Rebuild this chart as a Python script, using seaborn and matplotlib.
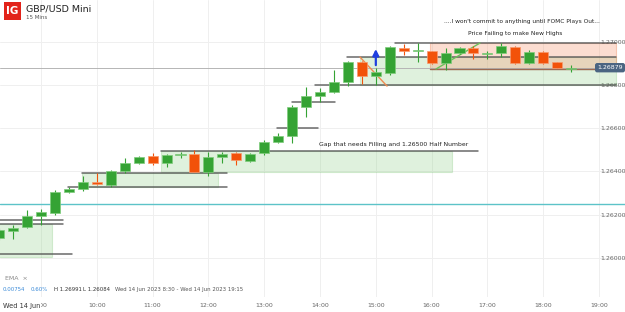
import matplotlib.pyplot as plt
import seaborn as sns
from matplotlib.patches import Rectangle, FancyArrowPatch

# 15 minute candles, GBP/USD Mini, Wed 14 Jun 2023
times = ["08:15", "08:30", "08:45", "09:00", "09:15", "09:30", "09:45",
         "10:00", "10:15", "10:30", "10:45", "11:00", "11:15", "11:30", "11:45",
         "12:00", "12:15", "12:30", "12:45", "13:00", "13:15", "13:30", "13:45",
         "14:00", "14:15", "14:30", "14:45", "15:00", "15:15", "15:30", "15:45",
         "16:00", "16:15", "16:30", "16:45", "17:00", "17:15", "17:30", "17:45",
         "18:00", "18:15", "18:30"]
opens = [1.26092, 1.26124, 1.26143, 1.26194, 1.26208, 1.26305, 1.26319,
         1.26351, 1.26337, 1.26402, 1.26439, 1.26471, 1.26439, 1.26476, 1.26480,
         1.26397, 1.26466, 1.26485, 1.26448, 1.26485, 1.26536, 1.26563, 1.26697,
         1.26748, 1.26767, 1.26813, 1.26905, 1.26841, 1.26854, 1.26970, 1.26956,
         1.26956, 1.26901, 1.26947, 1.26970, 1.26942, 1.26947, 1.26975, 1.26901,
         1.26951, 1.26905, 1.26873]
highs = [1.26140, 1.26152, 1.26222, 1.26226, 1.26314, 1.26328, 1.26379,
         1.26392, 1.26406, 1.26462, 1.26471, 1.26485, 1.26480, 1.26489, 1.26499,
         1.26489, 1.26489, 1.26489, 1.26485, 1.26545, 1.26577, 1.26707, 1.26790,
         1.26785, 1.26868, 1.26910, 1.26908, 1.26878, 1.26979, 1.26988, 1.26991,
         1.26958, 1.26970, 1.26975, 1.26979, 1.26956, 1.26991, 1.26979, 1.26961,
         1.26956, 1.26907, 1.26891]
lows = [1.26084, 1.26088, 1.26140, 1.26152, 1.26200, 1.26300, 1.26309,
        1.26337, 1.26328, 1.26392, 1.26434, 1.26430, 1.26420, 1.26462, 1.26397,
        1.26379, 1.26439, 1.26430, 1.26444, 1.26476, 1.26531, 1.26531, 1.26651,
        1.26720, 1.26762, 1.26794, 1.26804, 1.26799, 1.26845, 1.26938, 1.26905,
        1.26896, 1.26868, 1.26942, 1.26919, 1.26919, 1.26928, 1.26896, 1.26896,
        1.26896, 1.26876, 1.26859]
closes = [1.26129, 1.26138, 1.26194, 1.26212, 1.26305, 1.26319, 1.26351,
          1.26342, 1.26402, 1.26439, 1.26466, 1.26439, 1.26476, 1.26480, 1.26397,
          1.26466, 1.26480, 1.26453, 1.26480, 1.26536, 1.26563, 1.26697, 1.26748,
          1.26767, 1.26813, 1.26905, 1.26841, 1.26859, 1.26975, 1.26956, 1.26961,
          1.26901, 1.26947, 1.26970, 1.26947, 1.26947, 1.26979, 1.26901, 1.26951,
          1.26901, 1.26878, 1.26879]

price_ticks = [1.26000, 1.26200, 1.26400, 1.26600, 1.26800, 1.27000]
hour_ticks = [9, 10, 11, 12, 13, 14, 15, 16, 17, 18, 19]
hour_labels = ["9:00", "10:00", "11:00", "12:00", "13:00", "14:00",
               "15:00", "16:00", "17:00", "18:00", "19:00"]

# drawn levels: (price, from hour, to hour)
dark_levels = [(1.26018, 8.2, 9.556), (1.26177, 8.2, 9.394), (1.26156, 8.2, 9.394),
               (1.26394, 9.735, 12.333), (1.26329, 9.484, 12.333),
               (1.26496, 11.151, 16.832), (1.26599, 13.229, 13.964),
               (1.26719, 13.498, 14.269), (1.26799, 13.910, 19.305),
               (1.26930, 14.484, 19.305), (1.26994, 15.344, 19.305)]
# zones: (from hour, to hour, low, high)
green_zones = [(8.2, 9.197, 1.26004, 1.26156), (9.735, 12.172, 1.26329, 1.26394),
               (11.151, 16.366, 1.26397, 1.26496), (14.717, 19.305, 1.26799, 1.26928)]
red_zone = (15.971, 19.305, 1.26873, 1.26993)
ema_level = 1.26249
last_price = 1.26879

sns.set_style("white")
plt.rcParams['font.family'] = ['DejaVu Sans']

fig = plt.figure(figsize=(6.25, 3.12), dpi=100)
ax = fig.add_axes([0, 1 - 297 / 312, 1, 297 / 312])

def to_h(t):
    h, m = t.split(":")
    return int(h) + int(m) / 60

xs = [to_h(t) for t in times]
px_h = 55.8
ax.set_xlim(8.265, 8.265 + 625 / px_h)
ax.set_ylim(1.258198, 1.271917)

for x in hour_ticks:
    ax.axvline(x, color="#efefef", lw=0.7, zorder=0)
for p in price_ticks:
    ax.axhline(p, color="#efefef", lw=0.7, zorder=0)

# zones
for x1, x2, lo, hi in green_zones:
    ax.add_patch(Rectangle((x1, lo), x2 - x1, hi - lo, facecolor="#8ccf86", alpha=0.28,
                           edgecolor="#7cc476", lw=0.8, zorder=1, clip_on=False))
x1, x2, lo, hi = red_zone
ax.add_patch(Rectangle((x1, lo), x2 - x1, hi - lo, facecolor="#f7a07c", alpha=0.35,
                       edgecolor="#ec7a4a", lw=0.8, zorder=1, clip_on=False))
ax.plot([x1, x2], [lo, lo], color="#9c6a52", lw=1.0, zorder=2, clip_on=False)

for p, a, b in dark_levels:
    ax.plot([a, b], [p, p], color="#505050", lw=1.1, alpha=0.85, zorder=2, clip_on=False)

ax.axhline(ema_level, color="#5cc3c8", lw=1.0, zorder=2)
ax.axhline(last_price, color="#b5b5b5", lw=0.7, zorder=1)

# trend lines
ax.plot([14.717, 15.201], [1.26928, 1.26794], color="#f08a50", lw=1.0, zorder=2)
ax.plot([16.079, 16.867], [1.26873, 1.26993], color="#6cc05a", lw=1.0, zorder=2)

# candles
for x, o, h, l, c in zip(xs, opens, highs, lows, closes):
    col = "#35a334" if c >= o else "#f2520a"
    edge = "#7fcc7c" if c >= o else "#f79a6e"
    ax.vlines(x, l, h, color=col, lw=0.8, zorder=3)
    body = max(abs(c - o), 0.00004)
    ax.bar(x, body, bottom=min(o, c), width=0.18, color=col, edgecolor=edge,
           lw=0.5, zorder=4)

ax.add_patch(FancyArrowPatch((15.0, 1.26878), (15.0, 1.26978), arrowstyle="-|>",
                             mutation_scale=9, color="#1f3fe0", lw=1.6, zorder=5))

ax.text(17.62, 1.27091, "....I won't commit to anything until FOMC Plays Out...",
        fontsize=4.2, ha="center", va="center", color="#222222")
ax.text(17.495, 1.27035, "Price Failing to make New Highs",
        fontsize=4.2, ha="center", va="center", color="#222222")
ax.text(15.326, 1.26522, "Gap that needs Filling and 1.26500 Half Number",
        fontsize=4.4, ha="center", va="center", color="#222222")

# axes ticks
ax.set_xticks(hour_ticks)
ax.set_xticklabels(hour_labels)
ax.set_yticks(price_ticks)
ax.set_yticklabels([f"{p:.5f}" for p in price_ticks])
ax.yaxis.tick_right()
ax.tick_params(axis="y", length=0, pad=-18, labelsize=4.5, labelcolor="#666666")
ax.tick_params(axis="x", length=0, pad=4, labelsize=4.5, labelcolor="#666666")
for s in ax.spines.values():
    s.set_visible(False)

ax.text(0.9555, last_price, "1.26879", transform=ax.get_yaxis_transform(),
        fontsize=4.5, color="white", ha="left", va="center", zorder=6,
        bbox=dict(boxstyle="round,pad=0.35", fc="#4b6582", ec="none"))

# header and footer
fig.add_artist(Rectangle((4 / 625, 1 - 20 / 312), 17 / 625, 18 / 312,
                         transform=fig.transFigure, fc="#e2231a", ec="none"))
fig.text(12.5 / 625, 1 - 11.5 / 312, "IG", color="white", fontsize=7.5,
         fontweight="bold", ha="center", va="center")
fig.text(26 / 625, 1 - 9 / 312, "GBP/USD Mini", fontsize=6.8, color="#222222",
         va="center")
fig.text(26 / 625, 1 - 17.5 / 312, "15 Mins", fontsize=4.0, color="#555555",
         va="center")

fig.text(5 / 625, 1 - 279 / 312, "EMA  ×", fontsize=4.5, color="#888888", va="center")
row_y = 1 - 289.5 / 312
fig.text(3 / 625, row_y, "0.00754", fontsize=3.9, color="#3a8ad8", va="center")
fig.text(31 / 625, row_y, "0.60%", fontsize=3.9, color="#3a8ad8", va="center")
fig.text(54 / 625, row_y, "H 1.26991", fontsize=3.9, color="#333333", va="center")
fig.text(83 / 625, row_y, "L 1.26084", fontsize=3.9, color="#333333", va="center")
fig.text(115 / 625, row_y, "Wed 14 Jun 2023 8:30 - Wed 14 Jun 2023 19:15",
         fontsize=3.9, color="#555555", va="center")
fig.text(3 / 625, 1 - 306 / 312, "Wed 14 Jun", fontsize=4.8, color="#333333",
         va="center", bbox=dict(fc="white", ec="none", pad=0.6))

fig.savefig("out.png", dpi=100)
